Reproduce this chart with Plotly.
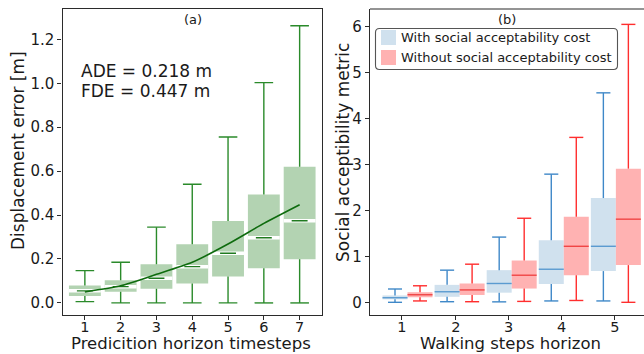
import plotly.graph_objects as go

# ---------------- Panel (a) data ----------------
a_steps = [1, 2, 3, 4, 5, 6, 7]
a_tick_labels = ["1", "2", "3", "4", "5", "6", "7"]
a_low = [0.006, 0.0, 0.0, 0.0, 0.0, 0.0, 0.0]
a_q1 = [0.032, 0.051, 0.065, 0.088, 0.12, 0.158, 0.199]
a_med = [0.055, 0.074, 0.112, 0.165, 0.226, 0.297, 0.374]
a_q3 = [0.079, 0.103, 0.176, 0.267, 0.373, 0.494, 0.62]
a_high = [0.147, 0.185, 0.345, 0.54, 0.755, 1.003, 1.262]
a_mean = [0.05, 0.078, 0.13, 0.185, 0.268, 0.362, 0.447]

# ---------------- Panel (b) data ----------------
b_steps = [1, 2, 3, 4, 5]
b_tick_labels = ["1", "2", "3", "4", "5"]
with_low = [0.0, 0.013, 0.01, 0.03, 0.03]
with_q1 = [0.065, 0.12, 0.21, 0.40, 0.68]
with_med = [0.10, 0.23, 0.41, 0.72, 1.22]
with_q3 = [0.15, 0.38, 0.70, 1.35, 2.27]
with_high = [0.29, 0.70, 1.42, 2.79, 4.56]
without_low = [0.03, 0.013, 0.02, 0.04, 0.0]
without_q1 = [0.11, 0.16, 0.30, 0.59, 0.81]
without_med = [0.165, 0.27, 0.59, 1.22, 1.81]
without_q3 = [0.22, 0.41, 0.91, 1.86, 2.91]
without_high = [0.36, 0.83, 1.83, 3.59, 6.05]
legend_labels = ["With social acceptability cost", "Without social acceptability cost"]

FONT = "DejaVu Sans"
AX = "#2b2b2b"
TXT = "#1a1a1a"
H = 354
W = 644

fig = go.Figure()


def add_box_set(xs, low, q1, med, q3, high, width, capw, fill, wcol, mcol,
                xaxis, yaxis, name=None, notch=False):
    fig.add_trace(go.Bar(
        x=xs, y=[b - a for a, b in zip(q1, q3)], base=q1, width=width,
        marker=dict(color=fill, line=dict(width=0)),
        xaxis=xaxis, yaxis=yaxis, name=name, showlegend=False,
        hoverinfo="skip"))
    wx, wy, cx, cy, mx, my, nx, ny = [], [], [], [], [], [], [], []
    for x, lo, a, m, b, hi in zip(xs, low, q1, med, q3, high):
        wx += [x, x, None, x, x, None]
        wy += [b, hi, None, a, lo, None]
        cx += [x - capw / 2, x + capw / 2, None, x - capw / 2, x + capw / 2, None]
        cy += [hi, hi, None, lo, lo, None]
        mw = width * (0.5 if notch else 1.0)
        mx += [x - mw / 2, x + mw / 2, None]
        my += [m, m, None]
        nx += [x - width / 2, x + width / 2, None]
        ny += [m, m, None]
    if notch:
        fig.add_trace(go.Scatter(x=nx, y=ny, mode="lines",
                                 line=dict(color="white", width=3.5),
                                 xaxis=xaxis, yaxis=yaxis, showlegend=False,
                                 hoverinfo="skip"))
    for X, Y, col in ((wx, wy, wcol), (cx, cy, wcol), (mx, my, mcol)):
        fig.add_trace(go.Scatter(x=X, y=Y, mode="lines",
                                 line=dict(color=col, width=1.4),
                                 xaxis=xaxis, yaxis=yaxis, showlegend=False,
                                 hoverinfo="skip"))


# Panel (a)
add_box_set(a_steps, a_low, a_q1, a_med, a_q3, a_high, 0.89, 0.52,
            "#b3d3b2", "#2a8a2a", "#1f7a1f", "x", "y", notch=True)
fig.add_trace(go.Scatter(x=a_steps, y=a_mean, mode="lines",
                         line=dict(color="#0e6b0e", width=1.6, shape="spline", smoothing=0.6),
                         xaxis="x", yaxis="y", showlegend=False, hoverinfo="skip"))

# Panel (b)
off = 0.24
fills_b = ["#d0e1ee", "#ffb2b2"]
add_box_set([s - off for s in b_steps], with_low, with_q1, with_med, with_q3, with_high,
            0.48, 0.27, fills_b[0], "#3f88c8", "#5b9bd0", "x2", "y2",
            name=legend_labels[0])
add_box_set([s + off for s in b_steps], without_low, without_q1, without_med, without_q3,
            without_high, 0.48, 0.27, fills_b[1], "#ff2e2e", "#f04545", "x2", "y2",
            name=legend_labels[1])

ydom = [1 - 315 / H, 1 - 9 / H]

axis_common = dict(showgrid=False, zeroline=False, showline=True, linecolor=AX,
                   linewidth=1.2, ticks="outside", ticklen=4, tickwidth=1.1,
                   tickcolor=AX)
yfont = dict(family=FONT, size=15, color=TXT)
xfont = dict(family=FONT, size=14.5, color=TXT)

fig.update_layout(
    width=W, height=H, margin=dict(l=0, r=0, t=0, b=0),
    paper_bgcolor="white", plot_bgcolor="white", barmode="overlay",
    font=dict(family=FONT, color=TXT), showlegend=False,
    xaxis=dict(domain=[62.5 / W, 322 / W], range=[0.375, 7.625], mirror=True,
               tickvals=a_steps, ticktext=a_tick_labels, anchor="y",
               ticklabelstandoff=-6, tickfont=xfont, **axis_common),
    yaxis=dict(domain=ydom, range=[-0.055, 1.338], mirror=True, anchor="x",
               tickvals=[0, 0.2, 0.4, 0.6, 0.8, 1.0, 1.2], tickformat=".1f",
               tickfont=yfont, **axis_common),
    xaxis2=dict(domain=[370 / W, 1.0], range=[0.28, 5.54], mirror=False,
                tickvals=[0.89, 1.93, 2.94, 3.96, 4.98], ticktext=b_tick_labels, anchor="y2",
                ticklabelstandoff=-6, tickfont=xfont, **axis_common),
    yaxis2=dict(domain=ydom, range=[-0.276, 6.385], mirror=False, anchor="x2",
                tickvals=[0, 1, 2, 3, 4, 5, 6],
                tickfont=yfont, **axis_common),
)

# top spine for panel (b)
fig.add_shape(type="line", xref="paper", yref="paper", x0=370 / W, x1=1.0,
              y0=ydom[1], y1=ydom[1], line=dict(color=AX, width=1.2))


def px_ann(x, y, text, size, xanchor="center", angle=0):
    fig.add_annotation(x=x / W, y=1 - y / H, xref="paper", yref="paper",
                       xanchor=xanchor, yanchor="middle", text=text, showarrow=False,
                       textangle=angle, borderpad=0,
                       font=dict(family=FONT, size=size, color=TXT))


# axis titles
px_ann(191, 343, "Predicition horizon timesteps", 16.5)
px_ann(510, 343, "Walking steps horizon", 16.5)
px_ann(18, 151, "Displacement error [m]", 17, angle=-90)
px_ann(343, 153, "Social acceptibility metric", 17, angle=-90)

# panel labels and stats
px_ann(193, 19, "(a)", 13)
px_ann(507, 19, "(b)", 13)
px_ann(80, 71, "ADE = 0.218 m", 17, xanchor="left")
px_ann(80, 91, "FDE = 0.447 m", 17, xanchor="left")

# legend (rounded frame, colour patches, labels)
lx0, lx1, ly0, ly1, r = 375.5, 617.5, 28.5, 69.5, 4


def P(x, y):
    return f"{x / W:.5f},{1 - y / H:.5f}"


path = (f"M {P(lx0 + r, ly0)} L {P(lx1 - r, ly0)} Q {P(lx1, ly0)} {P(lx1, ly0 + r)} "
        f"L {P(lx1, ly1 - r)} Q {P(lx1, ly1)} {P(lx1 - r, ly1)} "
        f"L {P(lx0 + r, ly1)} Q {P(lx0, ly1)} {P(lx0, ly1 - r)} "
        f"L {P(lx0, ly0 + r)} Q {P(lx0, ly0)} {P(lx0 + r, ly0)} Z")
fig.add_shape(type="path", path=path, xref="paper", yref="paper",
              fillcolor="rgba(255,255,255,0.85)", line=dict(color="#555", width=1.1))
for i, (lab, col) in enumerate(zip(legend_labels, fills_b)):
    yc = 37.5 + 20 * i
    fig.add_shape(type="rect", xref="paper", yref="paper",
                  x0=381 / W, x1=396 / W, y0=1 - (yc - 7.5) / H, y1=1 - (yc + 7.5) / H,
                  fillcolor=col, line=dict(width=0))
    px_ann(400, yc, lab, 13, xanchor="left")

fig.write_html("out.html")
